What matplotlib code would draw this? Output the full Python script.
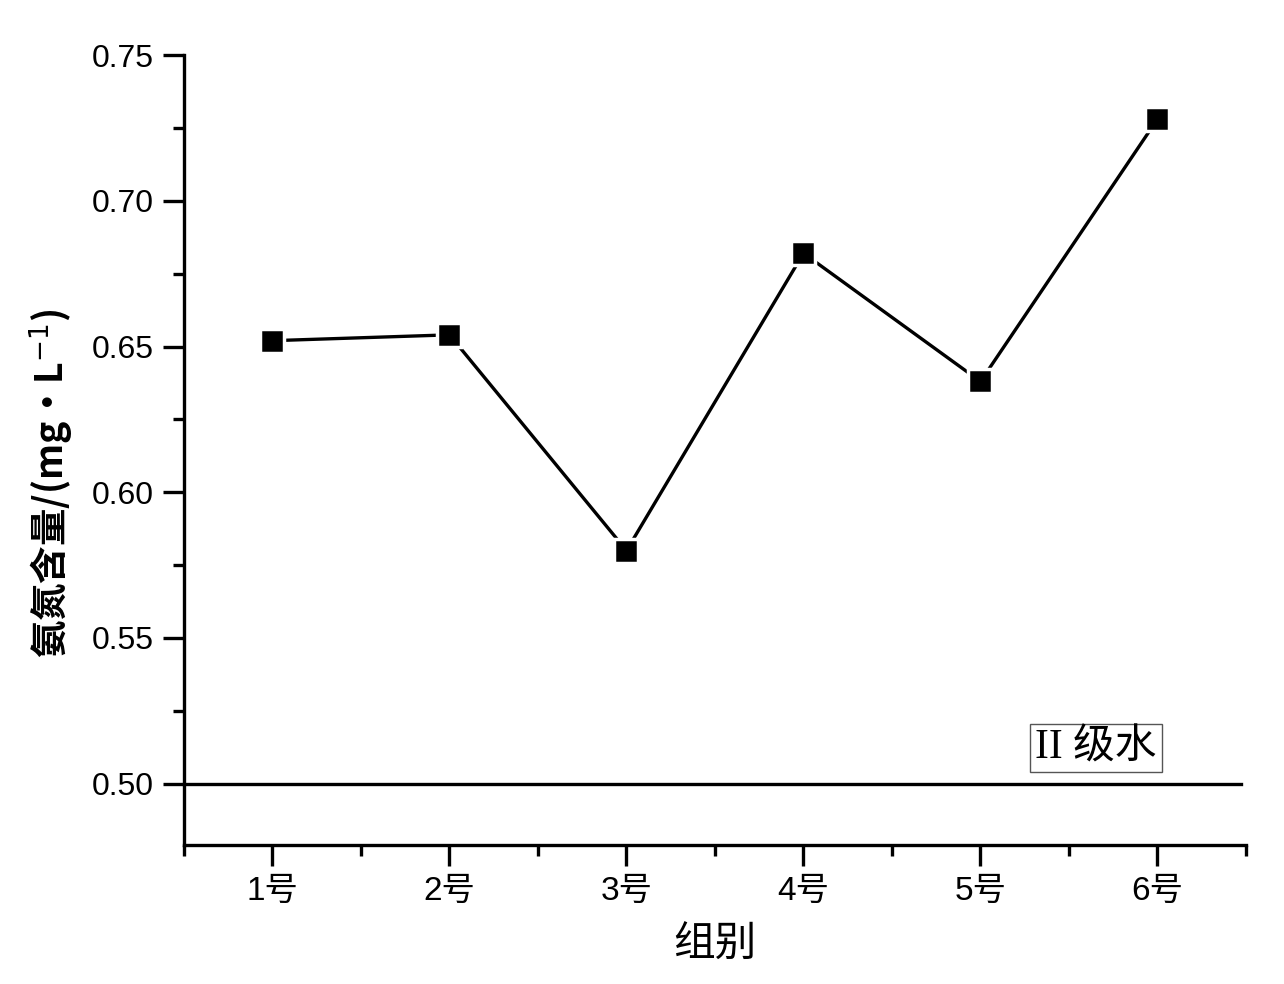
import matplotlib
matplotlib.use("Agg")
import matplotlib.pyplot as plt
from matplotlib.ticker import MultipleLocator, FixedLocator

plt.rcParams['font.family'] = ['Liberation Sans', 'Noto Sans CJK SC', 'DejaVu Sans']

groups = ['1号', '2号', '3号', '4号', '5号', '6号']
values = [0.652, 0.654, 0.580, 0.682, 0.638, 0.728]
standard_level = 0.50
standard_label = 'II 级水'

fig = plt.figure(figsize=(12.84, 9.84), dpi=100)
ax = fig.add_axes([0.1433, 0.1413, 0.8271, 0.8028])

x = list(range(1, len(groups) + 1))
ax.plot(x, values, color='black', lw=2.4, zorder=2)
ax.plot(x, values, ls='none', marker='s', ms=17, mfc='black', mec='white', mew=2.5, zorder=3)

ax.plot([0.5, 6.47], [standard_level, standard_level], color='black', lw=2.4, clip_on=False)
ax.text(5.652, 0.5123, standard_label, ha='center', va='center', fontsize=30,
        family=['Liberation Serif', 'Noto Sans CJK SC'],
        bbox=dict(boxstyle='square,pad=0.12', fc='white', ec='#555555', lw=1.0))

ax.set_xlim(0.5, 6.5)
ax.set_ylim(0.479, 0.75)
ax.set_xticks(x)
ax.set_xticklabels(groups, fontsize=24)
ax.xaxis.set_minor_locator(FixedLocator([0.5, 1.5, 2.5, 3.5, 4.5, 5.5, 6.5]))
ax.yaxis.set_major_locator(MultipleLocator(0.05))
ax.yaxis.set_minor_locator(MultipleLocator(0.025))
ax.yaxis.set_major_formatter(matplotlib.ticker.FormatStrFormatter('%.2f'))
ax.tick_params(axis='y', labelsize=23)

for s in ['top', 'right']:
    ax.spines[s].set_visible(False)
for s in ['left', 'bottom']:
    ax.spines[s].set_linewidth(2.4)
ax.tick_params(which='major', direction='out', length=15, width=2.4, pad=7)
ax.tick_params(which='minor', direction='out', length=8, width=2.4)

ax.set_xlabel('组别', fontsize=30, labelpad=14)
ax.set_ylabel('氨氮含量/(mg·L$^{-1}$)', fontsize=27, fontweight='bold',
              family=['Noto Sans CJK SC', 'DejaVu Sans'])
ax.yaxis.set_label_coords(-0.102, 0.458)

fig.savefig('out.png', dpi=100, facecolor='white')
